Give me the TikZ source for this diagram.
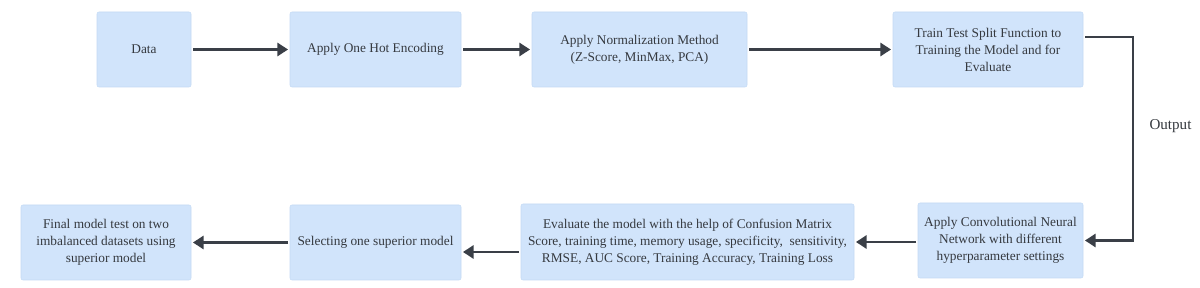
\documentclass[tikz,border=0pt]{standalone}
\usepackage{fontspec}
\setmainfont{Liberation Serif}
\usetikzlibrary{arrows.meta}
\definecolor{boxfill}{HTML}{D1E4FB}
\definecolor{boxline}{HTML}{C4DAF5}
\definecolor{txt}{HTML}{35393F}
\definecolor{arrc}{HTML}{3A3F47}
\tikzset{
  procbox/.style={draw=boxline, line width=0.4pt, fill=boxfill, rounded corners=1.5pt,
    minimum height=56.25pt, align=center, inner sep=2pt, outer sep=1.5pt,
    text=txt, font=\fontsize{10}{12.75}\selectfont},
  arr/.style={draw=arrc, line width=1.6pt, -{Triangle[length=8pt,width=10pt]}},
}
\begin{document}
\begin{tikzpicture}[x=0.75pt,y=-0.75pt]
\path[use as bounding box, fill=white] (0,0) rectangle (1200,288);

\node[procbox, minimum width=70.5pt]   (data)   at (144,49.5)   {Data};
\node[procbox, minimum width=128.25pt] (onehot) at (375.5,49.5) {Apply One Hot Encoding};
\node[procbox, minimum width=161.25pt] (norm)   at (639.5,49.5) {Apply Normalization Method\\(Z-Score, MinMax, PCA)};
\node[procbox, minimum width=142.5pt]  (train)  at (988,49.5)   {Train Test Split Function to\\Training the Model and for\\Evaluate};

\node[procbox, minimum width=123.75pt] (cnn)    at (1000.5,240.5) {Apply Convolutional Neural\\Network with different\\hyperparameter settings};
\node[procbox, minimum width=249.75pt, minimum height=57pt] (eval) at (687.5,242) {Evaluate the model with the help of Confusion Matrix\\Score, training time, memory usage, specificity,\ \ sensitivity,\\RMSE, AUC Score, Training Accuracy, Training Loss};
\node[procbox, minimum width=128.25pt] (select) at (375.5,242.5) {Selecting one superior model};
\node[procbox, minimum width=127.5pt]  (final)  at (106,242.5)  {Final model test on two\\imbalanced datasets using\\superior model};

\draw[arr] (data) -- (onehot);
\draw[arr] (onehot) -- (norm);
\draw[arr] (norm) -- (train);

\coordinate (bend) at (1133,240.5);
\draw[arr, rounded corners=0pt] ([yshift=9.4pt]train.east) -| (bend) -- (cnn.east);
\node[text=txt, font=\fontsize{11.3}{13.5}\selectfont] (outlbl) at (1170.5,126) {Output};

\draw[arr] (cnn.west |- eval.east) -- (eval.east);
\draw[arr] ([yshift=-7.5pt]eval.west) -- ([yshift=-7.5pt]eval.west -| select.east);
\draw[arr] (select) -- (final);
\end{tikzpicture}
\end{document}
